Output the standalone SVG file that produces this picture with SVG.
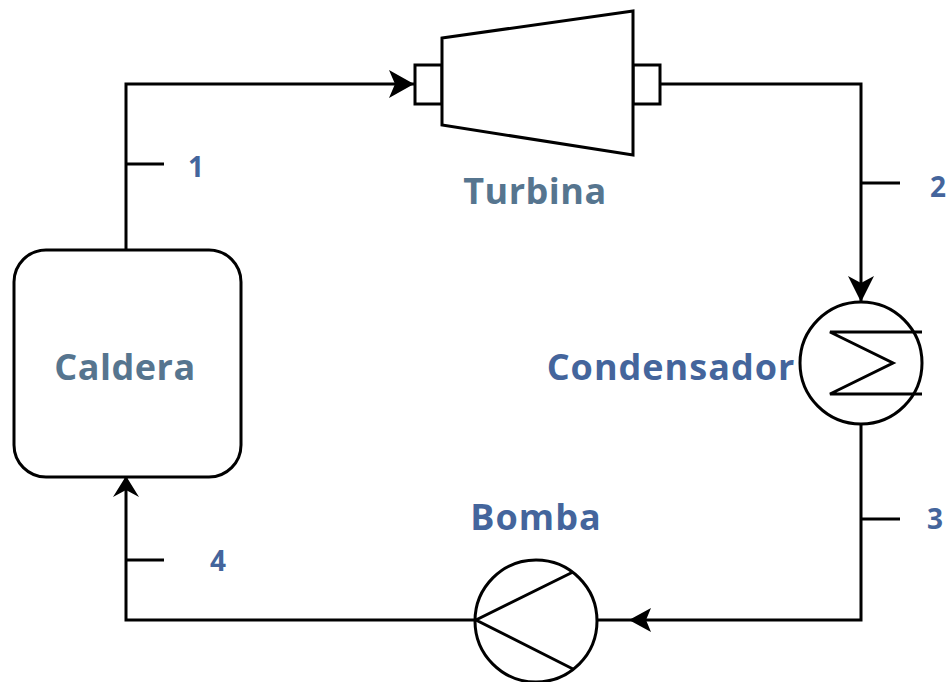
<svg xmlns="http://www.w3.org/2000/svg" width="949" height="682" viewBox="0 0 949 682">
<style>
.s{fill:#fff;stroke:#000;stroke-width:3}
.n{fill:none;stroke:#000;stroke-width:3}
.h{fill:#000;stroke:none}
text{font-family:"Open Sans","Noto Sans","DejaVu Sans",sans-serif;font-weight:700}
.l{font-size:36px;fill:#56758f;letter-spacing:.5px}
.b{font-size:36px;fill:#44659c;letter-spacing:1px}
.t{font-size:28px;fill:#44659c}
</style>
<rect width="949" height="682" fill="#fff"/>
<g id="connectors">
<path class="n" d="M126 249V84H414"/>
<path class="h" d="M414 84L389 70L395 84L389 98Z"/>
<path class="n" d="M660 84H861V302"/>
<path class="h" d="M861 302L848 276L861 283L874 276Z"/>
<path class="n" d="M861 425V620H598"/>
<path class="h" d="M629 620L651 608L646 620L651 632Z"/>
<path class="n" d="M475 620H126V477"/>
<path class="h" d="M126 476L113 497L126 490L139 497Z"/>
<path class="n" d="M126 164H164M861 183H900M861 519H900M126 560H164"/>
</g>
<g id="caldera">
<rect class="s" x="14" y="250" width="227" height="227" rx="32"/>
<text class="l" x="125" y="380" text-anchor="middle">Caldera</text>
</g>
<g id="turbina">
<rect class="s" x="415" y="65" width="27" height="39"/>
<rect class="s" x="633" y="65" width="27" height="39"/>
<path class="s" d="M442 38L633 11V155L442 125Z"/>
<text class="l" x="535" y="204" text-anchor="middle">Turbina</text>
</g>
<g id="condensador">
<circle class="s" cx="861" cy="363" r="61"/>
<path class="n" d="M922 332H830L893 363L830 394H922"/>
<text class="b" x="671" y="380" text-anchor="middle">Condensador</text>
</g>
<g id="bomba">
<circle class="s" cx="536" cy="621" r="61"/>
<path class="n" d="M573 572L476 620L573 669"/>
<text class="b" x="536" y="530" text-anchor="middle">Bomba</text>
</g>
<g id="labels">
<text class="t" x="196" y="177" text-anchor="middle">1</text>
<text class="t" x="938" y="197" text-anchor="middle">2</text>
<text class="t" x="935" y="529" text-anchor="middle">3</text>
<text class="t" x="218" y="571" text-anchor="middle">4</text>
</g>
</svg>
